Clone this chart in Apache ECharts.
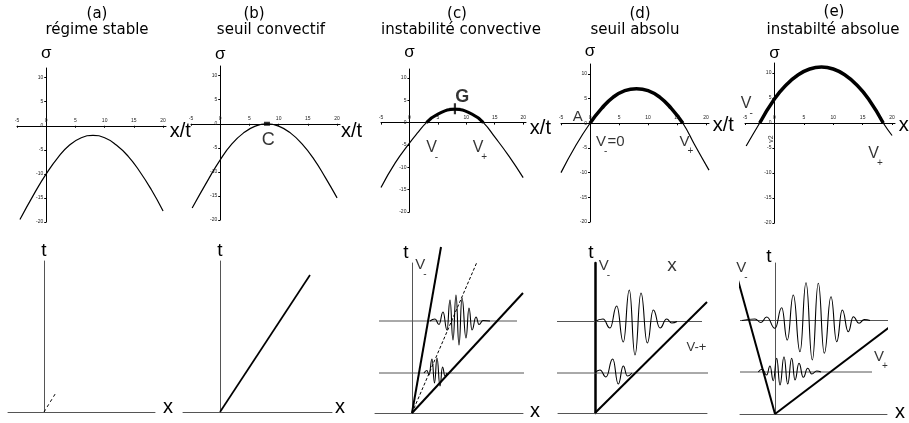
<!DOCTYPE html>
<html>
<head>
<meta charset="utf-8">
<script src="https://cdn.jsdelivr.net/npm/echarts@6/dist/echarts.min.js"></script>
<style>
  html, body { margin: 0; background: #fff; }
  #main { width: 909px; height: 423px; }
</style>
</head>
<body>
<div id="main"></div>
<script>
// tick labels of the sigma(x/t) plots
const xTicks = [-5, 0, 5, 10, 15, 20]
const sigmaTicks = [-20, -15, -10, -5, 0, 5, 10]

const panelTags = ['(a)', '(b)', '(c)', '(d)', '(e)']
const panelNames = ['régime stable', 'seuil convectif', 'instabilité convective', 'seuil absolu', 'instabilté absolue']

// growth rate sigma against the ray x/t
const sigmaA = [[-4.5, -19.5], [-2, -14], [0, -10], [2, -6.6], [4, -4], [6, -2.5], [8, -2], [10, -2.5], [12, -4], [14, -6.3], [16, -9.5], [18, -13.3], [20, -17.7]]
const sigmaB = [[-4.8, -17.5], [-2, -11.5], [0, -7.5], [2, -4.2], [4, -1.9], [6, -0.5], [8, 0], [10, -0.5], [12, -1.9], [14, -4.2], [16, -7.3], [18, -11.2], [20, -15.4]]
const sigmaC = [[-5, -14.5], [-2.5, -9], [0, -4.6], [1.5, -2.2], [3, 0], [5, 1.9], [8, 3], [11, 1.9], [13, 0], [15, -3.2], [17.5, -7.5], [20, -12.3]]
const sigmaD = [[-5, -10], [-2.5, -4.6], [0, 0], [2, 3], [4, 5.3], [6, 6.6], [8, 7], [10, 6.6], [12, 5.3], [14, 3], [16, 0], [18, -4.3], [20.5, -9.5]]
const sigmaE = [[-4.8, -4.6], [-2.5, 0], [0, 4.8], [2, 7.6], [4, 9.6], [6, 10.8], [8, 11.2], [10, 10.8], [12, 9.6], [14, 7.6], [16, 4.8], [18.5, 0], [20, -2.5]]

// special points
const pointC = [[8, 0]]
const pointG = [[8, 3.1]]

// labels of the upper plots [x/t, sigma, text]
const notesB = [[8.2, -3.3, 'C']]
const notesC = [[4, -5.6, 'V_{-}'], [12.4, -5.6, 'V_{+}']]
const boldC = [[9.3, 5.7, 'G']]
const notesD = [[-2.1, 1.3, 'A'], [3.5, -3.7, 'V_{-}=0'], [16.6, -3.7, 'V_{+}']]
const notesE = [[-4.7, 3.9, 'V_{-}'], [17.2, -6.1, 'V_{+}']]
const tinyE = [[-0.5, -3.2, 'v2']]

// rays in the (x, t) plane, lower plots
const rayA = [[0, 0], [12.4, 20]]
const rayB = [[0, 0], [90, 137]]
const rayCminus = [[0, 0], [29, 166]]
const rayCgroup = [[0, 0], [65, 151]]
const rayCplus = [[0, 0], [111, 120]]
const rayDplus = [[0, 0], [112, 111]]
const rayEminus = [[0, 0], [-39, 141]]
const rayEplus = [[0, 0], [128, 97]]

// the two instants drawn as horizontal lines
const instantsC = [[[-33, 92], [105, 92]], [[-33, 40], [116, 40]]]
const instantsD = [[[-40, 91.5], [107, 91.5]], [[-40, 40], [123, 40]]]
const instantsE = [[[-35, 93.5], [120, 93.5]], [[-35, 42], [97, 42]]]

// wave packets, peaks and troughs
const packetC1 = [[18, 92], [23, 94], [27, 88.5], [31, 101], [35, 83], [38, 113], [41, 73], [44, 118], [47, 68], [50, 115], [54, 75], [57, 105], [60, 83], [64, 96], [67, 88.5], [71, 92.5], [78, 92]]
const packetC2 = [[12, 40], [15, 42.5], [17, 38], [20, 54], [22.5, 30], [25, 55], [28, 27], [30.5, 46], [33, 37], [35, 40]]
const packetD1 = [[0, 91.5], [8, 94], [15, 85], [21.7, 107], [28.3, 71], [34.3, 123], [40, 58], [46, 120], [52.3, 70], [58.3, 103], [65, 85], [71.7, 94], [76.7, 90], [82, 91.5]]
const packetD2 = [[0, 40], [5, 43], [11, 36], [17.7, 54], [23.3, 29], [28.3, 47], [32.3, 37], [37, 40]]
const packetE1 = [[-33, 93.5], [-20, 95], [-14, 91.5], [-8.3, 97], [0, 85.7], [6.7, 106.3], [12.3, 74], [18.3, 119], [25, 62.3], [31, 131.3], [37.3, 54], [43.3, 130.7], [49.3, 60.7], [56, 117.3], [61.7, 72.3], [67.3, 104], [73.3, 82.3], [78.3, 97.3], [84, 90.7], [89.3, 94.5], [95, 93.5]]
const packetE2 = [[-16.7, 42], [-12.7, 44.7], [-8.3, 39], [-5, 48], [-1.7, 33.3], [1.7, 55.7], [5, 29], [9, 57.3], [12.7, 30], [16.7, 55.7], [20, 34], [24, 50.7], [28.3, 36.7], [32.7, 45.7], [36.7, 40], [41.7, 43], [46, 42]]

// labels of the lower plots [x, t, text]
const notesC2 = [[9, 148, 'V_{-}'], [83, 157, 'V_{G}'], [118, 124, 'V_{+}']]
const notesD2 = [[9.5, 147, 'V_{-}']]
const bigD2 = [[77, 147, 'x']]
const smallD2 = [[101.5, 65.5, 'V-+']]
const notesE2 = [[-33, 146, 'V_{-}'], [106, 57, 'V_{+}']]

const FONT = 'Liberation Sans, Arial, sans-serif'
const INK = '#000'
const GREY = '#555'

const chart = echarts.init(document.getElementById('main'))

// 'V_{-}' -> rich text with a subscript
function richText(txt) {
  return txt.split(/(_\{[^}]*\})/).filter(Boolean).map(p =>
    p.startsWith('_{') ? '{s|' + p.slice(2, -1) + '}' : '{m|' + p + '}').join('')
}

function line(g, data, width, extra) {
  return Object.assign({
    type: 'line', xAxisIndex: g, yAxisIndex: g, data, showSymbol: false, clip: false, silent: true,
    lineStyle: { color: INK, width }
  }, extra || {})
}

function notes(g, data, size, extra) {
  const sub = Math.round(size * 0.65)
  return {
    type: 'scatter', xAxisIndex: g, yAxisIndex: g, data, symbolSize: 1, silent: true,
    itemStyle: { color: 'rgba(0,0,0,0)' },
    label: Object.assign({
      show: true, position: 'inside', verticalAlign: 'top', offset: [0, -size / 2],
      formatter: p => richText(p.value[2]),
      rich: {
        m: { fontSize: size, lineHeight: size, verticalAlign: 'top', color: INK, fontFamily: FONT },
        s: { fontSize: sub, lineHeight: sub, padding: [Math.round(size * 0.8), 0, 0, -2], verticalAlign: 'top', color: INK, fontFamily: FONT }
      }
    }, extra || {})
  }
}

const grids = [], xAxes = [], yAxes = [], series = [], titles = []

// ---- upper row: sigma(x/t)
const X_MIN = -5, X_MAX = 20.5, S_MIN = -20, S_MAX = 12
const sigmaSets = [sigmaA, sigmaB, sigmaC, sigmaD, sigmaE]
const topBoxes = [[17, 68, 149, 154], [191, 66, 149, 154], [381, 69, 145, 143], [561, 64, 148, 158], [745, 63, 150, 160]]
const sigmaGap = [6, 3, 8, 4, 1]
const xtDrop = [6, 8, 6, 2, 2]
const thick = [0, 0, 3, 3.5, 3.5]
const tagX = [97, 254, 457, 640, 834]
const nameX = [97, 271, 461, 635, 833]

topBoxes.forEach((b, i) => {
  grids.push({ left: b[0], top: b[1], width: b[2], height: b[3], outerBoundsMode: 'none' })
  // axes are shifted onto the origin so that ticks and labels follow the lines
  xAxes.push({
    gridIndex: i, type: 'value', min: X_MIN, max: X_MAX, position: 'bottom',
    offset: -(0 - S_MIN) / (S_MAX - S_MIN) * b[3],
    axisLine: { onZero: false, lineStyle: { color: INK, width: 1 } },
    axisTick: { customValues: xTicks, length: 2, lineStyle: { color: INK } },
    axisLabel: { customValues: xTicks, inside: true, margin: 3, fontSize: 5, color: '#222', fontFamily: FONT },
    splitLine: { show: false },
    name: 'x/t', nameLocation: 'end', nameGap: 1,
    nameTextStyle: { fontSize: 20, color: INK, fontFamily: FONT, verticalAlign: 'top', lineHeight: xtDrop[i] * 2 }
  })
  yAxes.push({
    gridIndex: i, type: 'value', min: S_MIN, max: S_MAX, position: 'left',
    offset: -(0 - X_MIN) / (X_MAX - X_MIN) * b[2],
    axisLine: { onZero: false, lineStyle: { color: INK, width: 1 } },
    axisTick: { customValues: sigmaTicks, length: 2, lineStyle: { color: INK } },
    axisLabel: { customValues: sigmaTicks, margin: 3, fontSize: 5, color: '#222', fontFamily: FONT },
    splitLine: { show: false },
    name: 'σ', nameLocation: 'end', nameGap: sigmaGap[i],
    nameTextStyle: { fontSize: 17, color: INK, fontFamily: FONT }
  })
  series.push(line(i, sigmaSets[i], 1.2, { smooth: 0.5 }))
  if (thick[i]) series.push(line(i, sigmaSets[i].filter(p => p[1] >= 0), thick[i], { smooth: 0.5 }))
  titles.push({ text: panelTags[i], left: tagX[i], top: i === 4 ? 5 : 7, textAlign: 'center', padding: 0,
    textStyle: { fontSize: 15, fontWeight: 'normal', color: INK, fontFamily: 'DejaVu Sans' } })
  titles.push({ text: panelNames[i], left: nameX[i], top: 23, textAlign: 'center', padding: 0,
    textStyle: { fontSize: 15, fontWeight: 'normal', color: INK, fontFamily: 'DejaVu Sans' } })
})

series.push({ type: 'scatter', xAxisIndex: 1, yAxisIndex: 1, data: pointC, symbol: 'rect', symbolSize: [6, 4], itemStyle: { color: INK }, silent: true })
series.push({ type: 'scatter', xAxisIndex: 2, yAxisIndex: 2, data: pointG, symbol: 'path://M4,0H6V4H10V6H6V10H4V6H0V4H4Z', symbolSize: 11, itemStyle: { color: INK }, silent: true })
series.push(notes(1, notesB, 18))
series.push(notes(2, notesC, 16))
series.push(notes(2, boldC, 18, { rich: { m: { fontSize: 18, lineHeight: 18, fontWeight: 'bold', color: INK, fontFamily: FONT } } }))
series.push(notes(3, notesD, 15))
series.push(notes(4, notesE, 16))
series.push(notes(4, tinyE, 7, { rotate: 90 }))

// ---- lower row: (x, t) diagrams
const lowBoxes = [[8, 261, 147, 151], [183, 261, 149, 151], [375, 263, 148, 150], [558, 263, 149, 150], [740, 263, 147, 151]]
const xSpan = [[-36, 111], [-37, 112], [-37, 111], [-37, 112], [-35, 112]]
const tTop = [151, 151, 150, 150, 151]
const xName = ['x', 'x', 'x', '', 'x']
const xGap = [8, 3, 7, 0, 8]
const xLift = [5, 5, 2, 0, 2]
const tGap = [1, 1, 1, 1, -3]
const tShift = [0, 0, 12, 8, 12]

lowBoxes.forEach((b, k) => {
  const g = k + 5
  grids.push({ left: b[0], top: b[1], width: b[2], height: b[3], outerBoundsMode: 'none' })
  xAxes.push({
    gridIndex: g, type: 'value', min: xSpan[k][0], max: xSpan[k][1],
    axisLine: { onZero: false, lineStyle: { color: GREY, width: 1 } },
    axisTick: { show: false }, axisLabel: { show: false }, splitLine: { show: false },
    name: xName[k], nameLocation: 'end', nameGap: xGap[k],
    nameTextStyle: { fontSize: 20, color: INK, fontFamily: FONT, verticalAlign: 'bottom', lineHeight: xLift[k] * 2 }
  })
  yAxes.push({
    gridIndex: g, type: 'value', min: 0, max: tTop[k],
    axisLine: { onZero: true, lineStyle: { color: k === 3 ? INK : GREY, width: k === 3 ? 2.5 : 1 } },
    axisTick: { show: false }, axisLabel: { show: false }, splitLine: { show: false },
    name: 't', nameLocation: 'end', nameGap: tGap[k],
    nameTextStyle: { fontSize: 19, color: INK, fontFamily: FONT, padding: [0, tShift[k], 0, 0] }
  })
})

series.push(line(5, rayA, 1, { lineStyle: { color: INK, width: 1, type: [3, 3] } }))
series.push(line(6, rayB, 1.7))

instantsC.forEach(d => series.push(line(7, d, 1, { lineStyle: { color: GREY, width: 1 } })))
series.push(line(7, rayCminus, 2))
series.push(line(7, rayCgroup, 1, { lineStyle: { color: INK, width: 1, type: [3, 2] } }))
series.push(line(7, rayCplus, 2))
series.push(line(7, packetC1, 1.1, { smooth: 0.5, smoothMonotone: 'x' }))
series.push(line(7, packetC2, 1.1, { smooth: 0.5, smoothMonotone: 'x' }))
series.push(notes(7, notesC2, 15))

instantsD.forEach(d => series.push(line(8, d, 1, { lineStyle: { color: GREY, width: 1 } })))
series.push(line(8, rayDplus, 2))
series.push(line(8, packetD1, 1.1, { smooth: 0.5, smoothMonotone: 'x' }))
series.push(line(8, packetD2, 1.1, { smooth: 0.5, smoothMonotone: 'x' }))
series.push(notes(8, notesD2, 15))
series.push(notes(8, bigD2, 19))
series.push(notes(8, smallD2, 13))

instantsE.forEach(d => series.push(line(9, d, 1, { lineStyle: { color: GREY, width: 1 } })))
series.push(line(9, rayEminus, 2))
series.push(line(9, rayEplus, 2))
series.push(line(9, packetE1, 1.1, { smooth: 0.5, smoothMonotone: 'x' }))
series.push(line(9, packetE2, 1.1, { smooth: 0.5, smoothMonotone: 'x' }))
series.push(notes(9, notesE2, 15))

chart.setOption({
  backgroundColor: '#fff',
  animation: false,
  textStyle: { fontFamily: FONT },
  title: titles,
  grid: grids,
  xAxis: xAxes,
  yAxis: yAxes,
  series
})
</script>
</body>
</html>
